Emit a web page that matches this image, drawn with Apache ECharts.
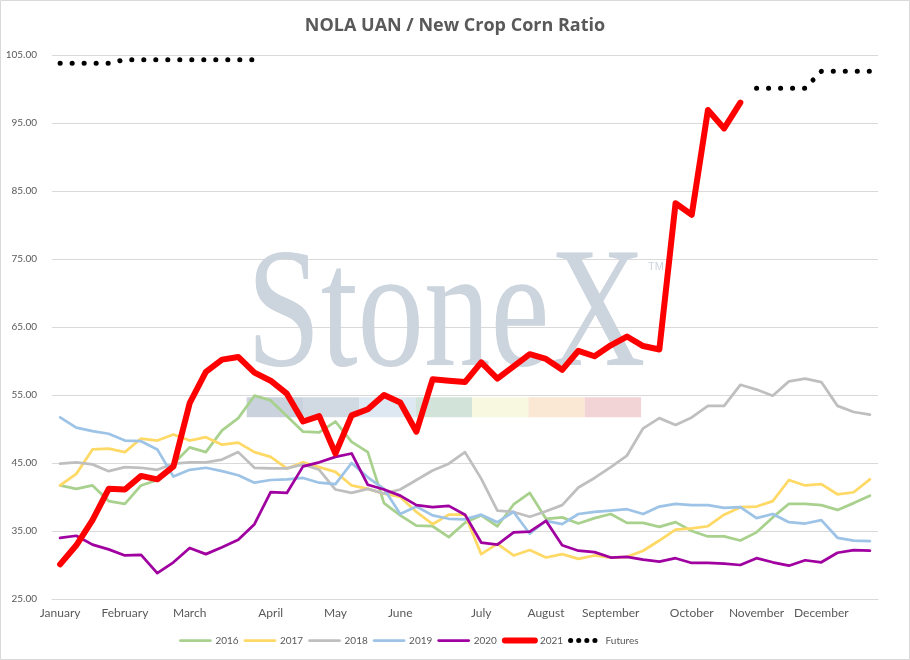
<!DOCTYPE html>
<html>
<head>
<meta charset="utf-8">
<script src="https://cdn.jsdelivr.net/npm/echarts@6/dist/echarts.min.js"></script>
<style>
html,body{margin:0;padding:0;background:#fff;}
#chart{width:910px;height:660px;}
</style>
</head>
<body>
<div id="chart"></div>
<script>
// Month tick labels and the week index where each appears
const months = ['January','February','March','April','May','June','July','August','September','October','November','December'];
const monthWeek = [0, 4, 8, 13, 17, 21, 26, 30, 34, 39, 43, 47];
const weekCount = 51;

const s2016 = [41.7,41.2,41.7,39.4,39.0,41.7,42.5,44.9,47.3,46.6,49.8,51.6,54.9,54.2,51.9,49.6,49.5,51.1,48.1,46.6,39.1,37.3,35.8,35.7,34.1,36.2,37.3,35.7,38.9,40.6,36.8,37.0,36.1,36.9,37.5,36.2,36.2,35.6,36.3,35.0,34.2,34.2,33.6,34.8,37.0,39.0,39.0,38.8,38.1,39.1,40.2];
const s2017 = [41.7,43.4,47.0,47.1,46.6,48.6,48.3,49.2,48.3,48.8,47.7,48.0,46.6,45.9,44.2,45.1,44.4,43.7,41.7,41.2,40.5,40.0,37.8,36.0,37.4,37.4,31.6,33.1,31.4,32.2,31.1,31.6,30.9,31.4,31.1,31.2,32.1,33.6,35.2,35.4,35.7,37.4,38.5,38.6,39.4,42.5,41.7,41.9,40.4,40.7,42.6];
const s2018 = [44.9,45.1,44.8,43.8,44.4,44.3,44.0,44.9,45.1,45.1,45.5,46.6,44.3,44.2,44.2,44.8,44.0,41.1,40.6,41.2,40.5,41.1,42.5,43.9,44.9,46.6,42.7,38.0,37.8,37.1,37.9,38.8,41.4,42.8,44.4,46.1,50.1,51.6,50.6,51.7,53.4,53.4,56.5,55.8,54.9,57.0,57.4,56.9,53.4,52.5,52.1];
const s2019 = [51.7,50.2,49.7,49.3,48.3,48.2,47.0,43.0,44.0,44.3,43.8,43.2,42.1,42.5,42.6,42.8,42.1,41.9,45.0,42.9,41.2,37.5,38.6,37.3,36.8,36.7,37.4,36.3,37.8,34.6,36.5,36.0,37.5,37.8,38.0,38.2,37.5,38.6,39.0,38.8,38.8,38.4,38.5,36.9,37.5,36.3,36.1,36.6,34.0,33.6,33.5];
const s2020 = [34.0,34.3,33.0,32.3,31.4,31.5,28.8,30.4,32.5,31.6,32.6,33.7,36.0,40.7,40.6,44.5,45.1,45.9,46.4,41.8,41.1,40.2,38.8,38.5,38.7,37.4,33.3,33.0,34.8,34.9,36.5,32.9,32.1,31.9,31.1,31.2,30.8,30.5,31.0,30.3,30.3,30.2,30.0,31.0,30.4,29.9,30.7,30.4,31.8,32.2,32.1];
const s2021 = [30.1,32.9,36.6,41.2,41.1,43.1,42.6,44.5,53.8,58.4,60.2,60.6,58.3,57.1,55.2,51.1,51.9,46.4,52.0,52.9,55.0,53.9,49.6,57.3,57.1,56.9,59.8,57.4,59.2,61.0,60.3,58.7,61.5,60.7,62.3,63.6,62.2,61.7,83.2,81.5,96.9,94.2,98.0,null,null,null,null,null,null,null,null];
const futures = [103.8,103.8,103.8,103.8,104.3,104.3,104.3,104.3,104.3,104.3,104.3,104.3,104.3,
  null,null,null,null,null,null,null,null,null,null,null,null,null,null,null,null,null,null,null,null,null,null,null,null,null,null,null,null,null,null,
  100.1,100.1,100.1,100.1,102.6,102.6,102.6,102.6];

const seriesNames = ['2016','2017','2018','2019','2020','2021','Futures'];
const yTicks = {min: 25, max: 105, step: 10};

const categories = [];
for (let i = 0; i < weekCount; i++) {
  const k = monthWeek.indexOf(i);
  categories.push(k >= 0 ? months[k] : '');
}

const chart = echarts.init(document.getElementById('chart'), null, {renderer: 'canvas'});

const labelFont = 'Lato, "Open Sans", sans-serif';
const wmColor = '#ccd4de';
const barColors = ['#c9d2dd','#d1d9e3','#dde8f2','#d2e3d9','#f8f8e0','#fae7d4','#f2d4d6'];
const graphics = [
  {type:'rect', shape:{x:0.5,y:0.5,width:909,height:659}, style:{fill:'none', stroke:'#d9d9d9', lineWidth:1}, z:0, silent:true},
  {type:'text', x:246.7, y:320, scaleX:0.773, z:1, silent:true,
   style:{text:'StoneX', font:'172px "Liberation Serif", "DejaVu Serif", serif', fill:wmColor, align:'left', verticalAlign:'middle'}},
  {type:'text', x:648, y:261, z:1, silent:true,
   style:{text:'TM', font:'11px "Liberation Sans", sans-serif', fill:wmColor, align:'left', verticalAlign:'top'}}
];
for (let k = 0; k < barColors.length; k++) {
  graphics.push({type:'rect', z:1, silent:true, shape:{x:246.7 + k*56.33, y:397.3, width:56.4, height:20}, style:{fill:barColors[k]}});
}

const thin = 2.75;
const noSym = {opacity: 0};
const option = {
  backgroundColor: '#ffffff',
  animation: false,
  title: {
    text: 'NOLA UAN / New Crop Corn Ratio',
    left: 'center',
    top: 12,
    textStyle: {fontFamily: '"Open Sans", Lato, sans-serif', fontSize: 18, fontWeight: 'bold', color: '#595959'}
  },
  legend: {
    left: 174,
    top: 630,
    itemWidth: 30,
    itemHeight: 14,
    itemGap: 5,
    itemStyle: noSym,
    textStyle: {fontFamily: labelFont, fontSize: 10, color: '#595959'},
    data: [
      {name:'2016', lineStyle:{width:thin}, itemStyle:noSym},
      {name:'2017', lineStyle:{width:thin}, itemStyle:noSym},
      {name:'2018', lineStyle:{width:thin}, itemStyle:noSym},
      {name:'2019', lineStyle:{width:thin}, itemStyle:noSym},
      {name:'2020', lineStyle:{width:thin}, itemStyle:noSym},
      {name:'2021', lineStyle:{width:6}, itemStyle:noSym},
      {name:'Futures', lineStyle:{width:5, type:[0.1, 8], cap:'round'}, itemStyle:noSym}
    ]
  },
  grid: {left: 52, right: 32, top: 55, bottom: 61, containLabel: false},
  xAxis: {
    type: 'category',
    data: categories,
    boundaryGap: true,
    axisLine: {show: true, lineStyle: {color: '#d9d9d9', width: 1}},
    axisTick: {show: false},
    axisLabel: {interval: 0, margin: 8, fontFamily: labelFont, fontSize: 12, color: '#595959'},
    splitLine: {show: false}
  },
  yAxis: {
    type: 'value',
    min: yTicks.min,
    max: yTicks.max,
    interval: yTicks.step,
    axisLine: {show: false},
    axisTick: {show: false},
    axisLabel: {margin: 15, fontFamily: labelFont, fontSize: 10, color: '#595959', formatter: v => v.toFixed(2)},
    splitLine: {show: true, lineStyle: {color: '#d9d9d9', width: 1}}
  },
  graphic: graphics,
  series: [
    {name:'2016', type:'line', data:s2016, symbol:'none', lineStyle:{color:'#a9d18e', width:thin, join:'round', cap:'round'}, itemStyle:{color:'#a9d18e'}, z:2},
    {name:'2017', type:'line', data:s2017, symbol:'none', lineStyle:{color:'#ffd966', width:thin, join:'round', cap:'round'}, itemStyle:{color:'#ffd966'}, z:2},
    {name:'2018', type:'line', data:s2018, symbol:'none', lineStyle:{color:'#bfbfbf', width:thin, join:'round', cap:'round'}, itemStyle:{color:'#bfbfbf'}, z:2},
    {name:'2019', type:'line', data:s2019, symbol:'none', lineStyle:{color:'#9dc3e6', width:thin, join:'round', cap:'round'}, itemStyle:{color:'#9dc3e6'}, z:2},
    {name:'2020', type:'line', data:s2020, symbol:'none', lineStyle:{color:'#a000a0', width:thin, join:'round', cap:'round'}, itemStyle:{color:'#a000a0'}, z:2},
    {name:'2021', type:'line', data:s2021, symbol:'none', lineStyle:{color:'#ff0000', width:6, join:'round', cap:'round'}, itemStyle:{color:'#ff0000'}, z:3},
    {name:'Futures', type:'line', data:futures, symbol:'none', connectNulls:false, lineStyle:{color:'#000000', width:5, type:[0.1, 11.9], cap:'round'}, itemStyle:{color:'#000000'}, z:3}
  ]
};
chart.setOption(option);
</script>
</body>
</html>
